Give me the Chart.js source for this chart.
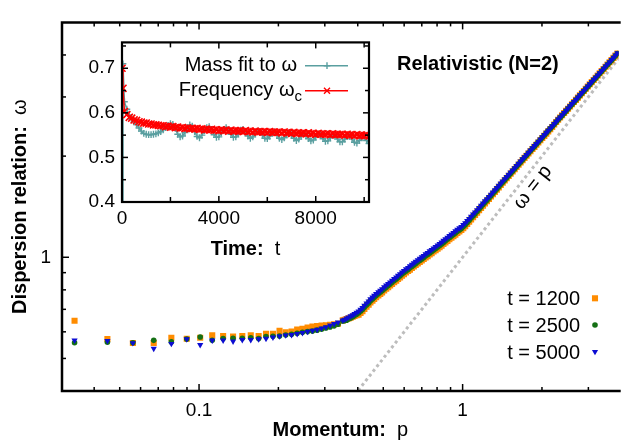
<!DOCTYPE html>
<html>
<head>
<meta charset="utf-8">
<script src="https://cdn.jsdelivr.net/npm/chart.js@4.4.0/dist/chart.umd.min.js"></script>
<style>
  html, body { margin: 0; padding: 0; background: #fff; }
  #wrap { position: relative; width: 623px; height: 445px; }
  #main { position: absolute; left: 0; top: 0; }
  #inset { position: absolute; left: 70px; top: 24px; }
</style>
</head>
<body>
<div id="wrap">
  <canvas id="main" width="623" height="445"></canvas>
  <canvas id="inset" width="306" height="236"></canvas>
</div>
<script>
// ---- main plot: dispersion relation ----
const momentum = [
  0.0337, 0.0449, 0.0561, 0.0673, 0.0785, 0.0898, 0.101, 0.1122, 0.1234, 0.1346,
  0.1459, 0.1571, 0.1683, 0.1795, 0.1907, 0.202, 0.2132, 0.2244, 0.2356, 0.2468,
  0.2581, 0.2693, 0.2805, 0.2917, 0.3029, 0.3142, 0.3254, 0.3366,
  0.351, 0.357, 0.363, 0.369, 0.376, 0.383, 0.389, 0.396, 0.403, 0.410,
  0.417, 0.424, 0.432, 0.440, 0.447, 0.455, 0.462, 0.470, 0.479, 0.487,
  0.495, 0.504, 0.513, 0.522, 0.531, 0.540, 0.550, 0.560, 0.569, 0.579,
  0.589, 0.599, 0.610, 0.621, 0.631, 0.642, 0.653, 0.664, 0.676, 0.688,
  0.700, 0.712, 0.724, 0.737, 0.750, 0.763, 0.776, 0.790, 0.804, 0.818,
  0.832, 0.846, 0.861, 0.876, 0.891, 0.907, 0.923, 0.939, 0.955, 0.972,
  0.989, 1.006, 1.023, 1.041, 1.059, 1.077, 1.096, 1.115, 1.135, 1.155,
  1.175, 1.195, 1.216, 1.237, 1.259, 1.281, 1.303, 1.326, 1.349, 1.372,
  1.396, 1.420, 1.445, 1.470, 1.496, 1.522, 1.549, 1.576, 1.603, 1.631,
  1.660, 1.689, 1.718, 1.748, 1.778, 1.809, 1.841, 1.873, 1.905, 1.938,
  1.972, 2.006, 2.042, 2.078, 2.113, 2.150, 2.188, 2.226, 2.265, 2.304,
  2.344, 2.385, 2.427, 2.469, 2.512, 2.556, 2.600, 2.645, 2.692, 2.739,
  2.786, 2.835, 2.884, 2.934, 2.985, 3.037, 3.090, 3.144, 3.199, 3.255,
  3.311, 3.369, 3.428, 3.488, 3.548, 3.610, 3.673, 3.737, 3.802, 3.868
];
const omega1200 = [
  0.647, 0.571, 0.556, 0.556, 0.576, 0.572, 0.576, 0.586, 0.583, 0.581,
  0.583, 0.586, 0.583, 0.592, 0.592, 0.604, 0.598, 0.601, 0.609, 0.613,
  0.618, 0.622, 0.624, 0.626, 0.628, 0.630, 0.632, 0.634,
  0.649, 0.652, 0.655, 0.658, 0.661, 0.665, 0.669, 0.672, 0.675, 0.683,
  0.691, 0.702, 0.713, 0.723, 0.734, 0.742, 0.751, 0.760, 0.770, 0.778,
  0.786, 0.796, 0.806, 0.815, 0.824, 0.833, 0.843, 0.852, 0.862, 0.871,
  0.881, 0.891, 0.901, 0.910, 0.919, 0.929, 0.939, 0.948, 0.958, 0.968,
  0.978, 0.988, 0.998, 1.008, 1.019, 1.029, 1.040, 1.050, 1.061, 1.072,
  1.083, 1.095, 1.107, 1.119, 1.131, 1.143, 1.156, 1.168, 1.181, 1.193,
  1.205, 1.221, 1.237, 1.256, 1.275, 1.295, 1.316, 1.337, 1.358, 1.380,
  1.402, 1.424, 1.446, 1.469, 1.492, 1.516, 1.540, 1.564, 1.589, 1.614,
  1.640, 1.666, 1.692, 1.718, 1.745, 1.772, 1.800, 1.828, 1.857, 1.886,
  1.916, 1.946, 1.976, 2.006, 2.037, 2.068, 2.099, 2.131, 2.163, 2.196,
  2.230, 2.264, 2.298, 2.333, 2.369, 2.405, 2.441, 2.484, 2.528, 2.567,
  2.606, 2.646, 2.687, 2.727, 2.768, 2.811, 2.854, 2.897, 2.941, 2.986,
  3.032, 3.078, 3.125, 3.173, 3.222, 3.271, 3.320, 3.370, 3.421, 3.474,
  3.527, 3.581, 3.635, 3.690, 3.746, 3.804, 3.862, 3.921, 3.981, 4.042
];
const omega2500 = [
  0.557, 0.559, 0.557, 0.566, 0.560, 0.571, 0.579, 0.566, 0.573, 0.574,
  0.574, 0.576, 0.573, 0.581, 0.582, 0.583, 0.587, 0.590, 0.594, 0.598,
  0.601, 0.603, 0.607, 0.611, 0.616, 0.620, 0.625, 0.632,
  0.646, 0.648, 0.650, 0.655, 0.660, 0.665, 0.671, 0.677, 0.683, 0.691,
  0.699, 0.710, 0.721, 0.731, 0.742, 0.751, 0.760, 0.769, 0.779, 0.787,
  0.795, 0.805, 0.815, 0.824, 0.833, 0.843, 0.853, 0.862, 0.871, 0.881,
  0.891, 0.901, 0.911, 0.920, 0.930, 0.939, 0.949, 0.959, 0.969, 0.979,
  0.989, 0.999, 1.010, 1.020, 1.030, 1.040, 1.051, 1.062, 1.073, 1.084,
  1.096, 1.107, 1.119, 1.131, 1.144, 1.156, 1.169, 1.182, 1.195, 1.206,
  1.218, 1.234, 1.250, 1.269, 1.288, 1.308, 1.328, 1.348, 1.369, 1.391,
  1.413, 1.435, 1.457, 1.479, 1.502, 1.525, 1.549, 1.573, 1.597, 1.622,
  1.648, 1.673, 1.699, 1.725, 1.751, 1.778, 1.805, 1.834, 1.864, 1.893,
  1.922, 1.952, 1.982, 2.012, 2.043, 2.074, 2.106, 2.138, 2.171, 2.204,
  2.238, 2.272, 2.307, 2.342, 2.378, 2.414, 2.451, 2.488, 2.525, 2.564,
  2.603, 2.643, 2.684, 2.725, 2.766, 2.808, 2.851, 2.894, 2.938, 2.983,
  3.029, 3.075, 3.122, 3.170, 3.218, 3.267, 3.317, 3.367, 3.418, 3.470,
  3.523, 3.577, 3.631, 3.687, 3.743, 3.800, 3.858, 3.917, 3.977, 4.037
];
const omega5000 = [
  0.566, 0.564, 0.556, 0.535, 0.553, 0.571, 0.549, 0.566, 0.566, 0.562,
  0.568, 0.568, 0.571, 0.573, 0.578, 0.582, 0.586, 0.588, 0.592, 0.596,
  0.601, 0.605, 0.609, 0.615, 0.620, 0.627, 0.634, 0.640,
  0.649, 0.653, 0.658, 0.663, 0.668, 0.673, 0.679, 0.685, 0.691, 0.699,
  0.707, 0.718, 0.730, 0.740, 0.751, 0.760, 0.769, 0.778, 0.788, 0.796,
  0.805, 0.815, 0.825, 0.834, 0.843, 0.853, 0.863, 0.872, 0.882, 0.892,
  0.902, 0.912, 0.922, 0.931, 0.941, 0.951, 0.961, 0.971, 0.981, 0.991,
  1.001, 1.011, 1.022, 1.032, 1.043, 1.053, 1.064, 1.075, 1.086, 1.097,
  1.109, 1.121, 1.133, 1.145, 1.158, 1.170, 1.183, 1.196, 1.209, 1.221,
  1.233, 1.249, 1.265, 1.283, 1.302, 1.322, 1.342, 1.362, 1.383, 1.404,
  1.426, 1.447, 1.469, 1.491, 1.514, 1.537, 1.561, 1.585, 1.609, 1.634,
  1.659, 1.684, 1.710, 1.736, 1.762, 1.789, 1.816, 1.844, 1.872, 1.901,
  1.930, 1.959, 1.989, 2.019, 2.050, 2.081, 2.113, 2.145, 2.178, 2.211,
  2.245, 2.279, 2.314, 2.349, 2.385, 2.421, 2.458, 2.495, 2.533, 2.572,
  2.611, 2.651, 2.692, 2.733, 2.774, 2.817, 2.860, 2.903, 2.947, 2.992,
  3.038, 3.084, 3.131, 3.179, 3.228, 3.277, 3.327, 3.377, 3.428, 3.481,
  3.534, 3.588, 3.642, 3.698, 3.754, 3.812, 3.870, 3.929, 3.989, 4.050
];
const diagonal = [0.3, 5];
const xTickLabels = [0.1, 1];
const xMinorTicks = [0.04, 0.05, 0.06, 0.07, 0.08, 0.09, 0.2, 0.3, 0.4, 0.5, 0.6, 0.7, 0.8, 0.9, 2, 3];
const yTickLabels = [1];
const yMinorTicks = [0.5, 0.6, 0.7, 0.8, 0.9, 2, 3, 4];

// ---- inset: time series ----
const insetTime = [
  0, 40, 100, 200, 300, 400, 500, 600, 700, 800, 900, 1000,
  1100, 1200, 1300, 1400, 1500, 1600, 1700, 1800, 1900, 2000,
  2100, 2200, 2300, 2400, 2500, 2600, 2700, 2800, 2900, 3000,
  3100, 3200, 3300, 3400, 3500, 3600, 3700, 3800, 3900, 4000,
  4100, 4200, 4300, 4400, 4500, 4600, 4700, 4800, 4900, 5000,
  5100, 5200, 5300, 5400, 5500, 5600, 5700, 5800, 5900, 6000,
  6100, 6200, 6300, 6400, 6500, 6600, 6700, 6800, 6900, 7000,
  7100, 7200, 7300, 7400, 7500, 7600, 7700, 7800, 7900, 8000,
  8100, 8200, 8300, 8400, 8500, 8600, 8700, 8800, 8900, 9000,
  9100, 9200, 9300, 9400, 9500, 9600, 9700, 9800, 9900, 10000,
  10100, 10200
];
const massFit = [
  0.30, 0.71, 0.625, 0.608, 0.595, 0.585, 0.580, 0.574, 0.566, 0.559, 0.554, 0.552,
  0.551, 0.551, 0.552, 0.553, 0.555, 0.558, 0.562, 0.567, 0.572, 0.576,
  0.574, 0.565, 0.552, 0.546, 0.548, 0.556, 0.566, 0.573, 0.570, 0.558,
  0.547, 0.544, 0.550, 0.560, 0.567, 0.569, 0.562, 0.551, 0.545, 0.546,
  0.555, 0.563, 0.567, 0.562, 0.552, 0.545, 0.546, 0.553, 0.561, 0.563,
  0.557, 0.548, 0.543, 0.546, 0.553, 0.559, 0.558, 0.550, 0.543, 0.542,
  0.548, 0.555, 0.557, 0.551, 0.543, 0.540, 0.544, 0.551, 0.555, 0.551,
  0.543, 0.538, 0.541, 0.548, 0.553, 0.550, 0.542, 0.537, 0.539, 0.546,
  0.552, 0.550, 0.542, 0.536, 0.537, 0.544, 0.550, 0.549, 0.541, 0.535,
  0.535, 0.541, 0.548, 0.548, 0.541, 0.534, 0.532, 0.538, 0.545, 0.545,
  0.538, 0.531
];
const frequency = [
  0.700, 0.655, 0.603, 0.596, 0.590, 0.588, 0.584, 0.583, 0.580, 0.579, 0.577, 0.577,
  0.575, 0.575, 0.573, 0.573, 0.572, 0.571, 0.571, 0.569, 0.570, 0.568,
  0.569, 0.567, 0.568, 0.566, 0.567, 0.565, 0.566, 0.564, 0.565, 0.564,
  0.565, 0.563, 0.564, 0.562, 0.563, 0.562, 0.563, 0.561, 0.562, 0.560,
  0.562, 0.560, 0.561, 0.559, 0.561, 0.559, 0.560, 0.559, 0.560, 0.558,
  0.560, 0.558, 0.559, 0.557, 0.559, 0.557, 0.558, 0.557, 0.558, 0.556,
  0.558, 0.556, 0.557, 0.556, 0.557, 0.555, 0.557, 0.555, 0.556, 0.554,
  0.556, 0.554, 0.555, 0.554, 0.555, 0.553, 0.555, 0.553, 0.554, 0.552,
  0.554, 0.552, 0.553, 0.552, 0.553, 0.551, 0.553, 0.551, 0.552, 0.551,
  0.552, 0.550, 0.552, 0.550, 0.551, 0.549, 0.551, 0.549, 0.550, 0.549,
  0.550, 0.548
];
const insetXTicks = [0, 4000, 8000];
const insetXMinor = [2000, 6000, 10000];
const insetYTicks = [0.4, 0.5, 0.6, 0.7];
const insetYMinor = [0.45, 0.55, 0.65, 0.75];

const FONT = '"Liberation Sans", Arial, Helvetica, sans-serif';
const ORANGE = '#ff8c00', GREEN = '#157015', BLUE = '#0c0cd2';
const TEAL = '#5a9fa0', RED = '#ff0000';

Chart.defaults.font.family = FONT;
Chart.defaults.color = '#000';

function drawParts(ctx, parts, x, y, align) {
  let total = 0;
  parts.forEach(p => { ctx.font = p.font; p.w = ctx.measureText(p.text).width; total += p.w; });
  let cx = align === 'center' ? x - total / 2 : (align === 'right' ? x - total : x);
  ctx.textAlign = 'left';
  ctx.textBaseline = 'alphabetic';
  parts.forEach(p => { ctx.font = p.font; ctx.fillText(p.text, cx, y + (p.dy || 0)); cx += p.w; });
}

function marker(ctx, style, x, y, r, color) {
  ctx.save();
  ctx.fillStyle = color;
  ctx.strokeStyle = color;
  ctx.lineWidth = 1.4;
  ctx.beginPath();
  if (style === 'rect') {
    const s = r * Math.SQRT1_2;
    ctx.fillRect(x - s, y - s, 2 * s, 2 * s);
  } else if (style === 'circle') {
    ctx.arc(x, y, r, 0, Math.PI * 2);
    ctx.fill();
  } else if (style === 'triangle') {
    ctx.moveTo(x, y + r);
    ctx.lineTo(x - r * 0.866, y - r / 2);
    ctx.lineTo(x + r * 0.866, y - r / 2);
    ctx.closePath();
    ctx.fill();
  } else if (style === 'cross') {
    ctx.moveTo(x - r, y); ctx.lineTo(x + r, y);
    ctx.moveTo(x, y - r); ctx.lineTo(x, y + r);
    ctx.stroke();
  } else if (style === 'crossRot') {
    const d = r * 0.6;
    ctx.moveTo(x - d, y - d); ctx.lineTo(x + d, y + d);
    ctx.moveTo(x - d, y + d); ctx.lineTo(x + d, y - d);
    ctx.stroke();
  }
  ctx.restore();
}

function tickMarks(ctx, scale, values, len, area, sides) {
  values.forEach(v => {
    const p = scale.getPixelForValue(v);
    sides.forEach(side => {
      ctx.beginPath();
      if (side === 'bottom') { ctx.moveTo(p, area.bottom); ctx.lineTo(p, area.bottom - len); }
      if (side === 'top') { ctx.moveTo(p, area.top); ctx.lineTo(p, area.top + len); }
      if (side === 'left') { ctx.moveTo(area.left, p); ctx.lineTo(area.left + len, p); }
      if (side === 'right') { ctx.moveTo(area.right, p); ctx.lineTo(area.right - len, p); }
      ctx.stroke();
    });
  });
}

const mainDecor = {
  id: 'mainDecor',
  afterDraw(chart) {
    const ctx = chart.ctx, a = chart.chartArea;
    const xs = chart.scales.x, ys = chart.scales.y;
    ctx.save();
    ctx.strokeStyle = '#000';
    ctx.lineWidth = 1.5;
    tickMarks(ctx, xs, xTickLabels, 7, a, ['bottom', 'top']);
    tickMarks(ctx, xs, xMinorTicks, 4, a, ['bottom', 'top']);
    tickMarks(ctx, ys, yTickLabels, 7, a, ['left']);
    tickMarks(ctx, ys, yMinorTicks, 4, a, ['left']);
    ctx.lineWidth = 2.5;
    ctx.beginPath();
    ctx.moveTo(a.right + 2, a.top);
    ctx.lineTo(a.left, a.top);
    ctx.lineTo(a.left, a.bottom);
    ctx.lineTo(a.right + 2, a.bottom);
    ctx.stroke();

    ctx.fillStyle = '#000';
    // axis titles
    drawParts(ctx, [{ text: 'Momentum:', font: 'bold 20px ' + FONT }, { text: '  p', font: '20px ' + FONT }],
      (a.left + a.right) / 2, 436, 'center');
    ctx.save();
    ctx.translate(26, (a.top + a.bottom) / 2);
    ctx.rotate(-Math.PI / 2);
    drawParts(ctx, [{ text: 'Dispersion relation:', font: 'bold 20px ' + FONT }, { text: '  \u03c9', font: '20px ' + FONT }],
      0, 0, 'center');
    ctx.restore();

    // title
    drawParts(ctx, [{ text: 'Relativistic (N=2)', font: 'bold 20px ' + FONT }], 397, 70, 'left');

    // omega = p label along the dashed line
    const ang = Math.atan2(ys.getPixelForValue(3) - ys.getPixelForValue(1), xs.getPixelForValue(3) - xs.getPixelForValue(1));
    const lx = xs.getPixelForValue(1.7) - 12 * Math.sin(ang);
    const ly = ys.getPixelForValue(1.7) + 12 * Math.cos(ang);
    ctx.save();
    ctx.translate(lx, ly);
    ctx.rotate(ang);
    ctx.font = '20px ' + FONT;
    ctx.textAlign = 'center';
    ctx.textBaseline = 'middle';
    ctx.fillText('\u03c9 = p', 0, 0);
    ctx.restore();

    // legend
    const rows = [298.3, 325, 351.7];
    chart.data.datasets.slice(0, 3).forEach((ds, i) => {
      drawParts(ctx, [{ text: ds.label, font: '20px ' + FONT }], 580, rows[i] + 7, 'right');
      marker(ctx, ds.pointStyle, 595, rows[i], ds.pointRadius, ds.backgroundColor);
    });
    ctx.restore();
  }
};

new Chart(document.getElementById('main'), {
  type: 'scatter',
  data: {
    datasets: [
      {
        label: 't = 1200',
        data: momentum.map((p, i) => ({ x: p, y: omega1200[i] })),
        pointStyle: 'rect', pointRadius: 4.3, pointBorderWidth: 0,
        backgroundColor: ORANGE, borderColor: ORANGE, order: 3
      },
      {
        label: 't = 2500',
        data: momentum.map((p, i) => ({ x: p, y: omega2500[i] })),
        pointStyle: 'circle', pointRadius: 2.8, pointBorderWidth: 0,
        backgroundColor: GREEN, borderColor: GREEN, order: 2
      },
      {
        label: 't = 5000',
        data: momentum.map((p, i) => ({ x: p, y: omega5000[i] })),
        pointStyle: 'triangle', pointRotation: 180, pointRadius: 3.6, pointBorderWidth: 0,
        backgroundColor: BLUE, borderColor: BLUE, order: 1
      },
      {
        label: '\u03c9 = p',
        type: 'line',
        data: diagonal.map(v => ({ x: v, y: v })),
        borderColor: '#bdbdbd', borderWidth: 3, borderDash: [3, 3],
        pointRadius: 0, order: 4
      }
    ]
  },
  options: {
    responsive: false,
    devicePixelRatio: 1,
    animation: false,
    layout: { padding: { top: 8, right: 0, left: 0, bottom: 0 } },
    plugins: { legend: { display: false }, tooltip: { enabled: false } },
    scales: {
      x: {
        type: 'logarithmic', min: 0.0302, max: 3.91,
        grid: { display: false, drawTicks: false },
        border: { display: false },
        afterBuildTicks: s => { s.ticks = xTickLabels.map(v => ({ value: v })); },
        afterFit: s => { s.height = 54; },
        ticks: { callback: v => String(v), font: { size: 19 }, padding: 8, maxRotation: 0, autoSkip: false, color: '#000' }
      },
      y: {
        type: 'logarithmic', min: 0.4, max: 5,
        grid: { display: false, drawTicks: false },
        border: { display: false },
        afterBuildTicks: s => { s.ticks = yTickLabels.map(v => ({ value: v })); },
        afterFit: s => { s.width = 62; },
        ticks: { callback: v => String(v), font: { size: 19 }, padding: 11, autoSkip: false, color: '#000' }
      }
    }
  },
  plugins: [mainDecor]
});

const insetDecor = {
  id: 'insetDecor',
  afterDraw(chart) {
    const ctx = chart.ctx, a = chart.chartArea;
    const xs = chart.scales.x, ys = chart.scales.y;
    ctx.save();
    ctx.strokeStyle = '#000';
    ctx.lineWidth = 1.5;
    tickMarks(ctx, xs, insetXTicks, 6, a, ['bottom', 'top']);
    tickMarks(ctx, xs, insetXMinor, 5, a, ['bottom', 'top']);
    tickMarks(ctx, ys, insetYTicks, 6, a, ['left', 'right']);
    tickMarks(ctx, ys, insetYMinor, 4, a, ['left', 'right']);
    ctx.lineWidth = 2.2;
    ctx.strokeRect(a.left, a.top, a.right - a.left, a.bottom - a.top);

    ctx.fillStyle = '#000';
    drawParts(ctx, [{ text: 'Time:', font: 'bold 20px ' + FONT }, { text: '  t', font: '20px ' + FONT }],
      (a.left + a.right) / 2, 231, 'center');

    // legend
    const rows = [41.7, 66.7];
    chart.data.datasets.forEach((ds, i) => {
      if (i === 0) {
        drawParts(ctx, [{ text: ds.label, font: '20px ' + FONT }], 227, rows[i] + 5, 'right');
      } else {
        drawParts(ctx, [{ text: ds.label, font: '20px ' + FONT }, { text: 'c', font: '15px ' + FONT, dy: 5 }],
          232, rows[i] + 5, 'right');
      }
      ctx.strokeStyle = ds.borderColor;
      ctx.lineWidth = ds.borderWidth;
      ctx.beginPath();
      ctx.moveTo(235, rows[i]);
      ctx.lineTo(278, rows[i]);
      ctx.stroke();
      marker(ctx, ds.pointStyle, 257, rows[i], ds.pointRadius, ds.borderColor);
    });
    ctx.restore();
  }
};

new Chart(document.getElementById('inset'), {
  type: 'scatter',
  data: {
    datasets: [
      {
        label: 'Mass fit to \u03c9',
        data: insetTime.map((t, i) => ({ x: t, y: massFit[i] })),
        showLine: true, borderColor: TEAL, borderWidth: 1.5,
        pointStyle: 'cross', pointRadius: 3.4, pointBorderWidth: 1.4,
        pointBorderColor: TEAL, backgroundColor: TEAL, order: 2
      },
      {
        label: 'Frequency \u03c9',
        data: insetTime.map((t, i) => ({ x: t, y: frequency[i] })),
        showLine: true, borderColor: RED, borderWidth: 1.5,
        pointStyle: 'crossRot', pointRadius: 5, pointBorderWidth: 1.6,
        pointBorderColor: RED, backgroundColor: RED, order: 1
      }
    ]
  },
  options: {
    responsive: false,
    devicePixelRatio: 1,
    animation: false,
    layout: { padding: { top: 9, right: 7, left: 0, bottom: 0 } },
    plugins: { legend: { display: false }, tooltip: { enabled: false } },
    scales: {
      x: {
        type: 'linear', min: 0, max: 10200,
        grid: { display: false, drawTicks: false },
        border: { display: false },
        afterBuildTicks: s => { s.ticks = insetXTicks.map(v => ({ value: v })); },
        afterFit: s => { s.height = 58; },
        ticks: { callback: v => String(v), font: { size: 19 }, padding: 5, maxRotation: 0, autoSkip: false, color: '#000' }
      },
      y: {
        type: 'linear', min: 0.4, max: 0.758,
        grid: { display: false, drawTicks: false },
        border: { display: false },
        afterBuildTicks: s => { s.ticks = insetYTicks.map(v => ({ value: v })); },
        afterFit: s => { s.width = 52; },
        ticks: { callback: v => v.toFixed(1), font: { size: 19 }, padding: 7, autoSkip: false, color: '#000' }
      }
    }
  },
  plugins: [insetDecor]
});
</script>
</body>
</html>
